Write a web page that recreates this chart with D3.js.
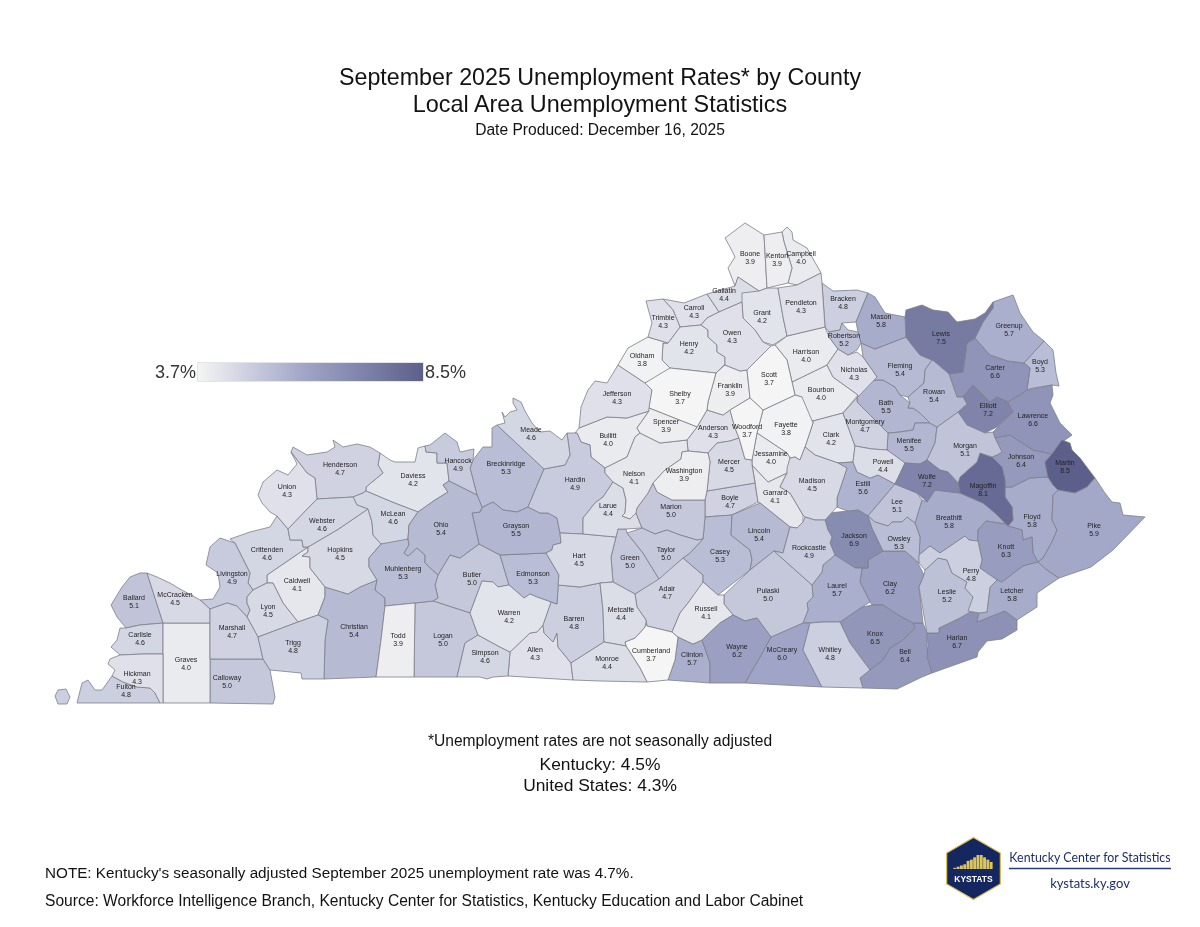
<!DOCTYPE html>
<html lang="en">
<head>
  <meta charset="UTF-8">
  <title>September 2025 Unemployment Rates by County</title>
  <style>
    body { margin: 0; background: #fff; font-family: "Liberation Sans", Arial, sans-serif; }
    .county { stroke: #7c7d88; stroke-width: 0.8; stroke-linejoin: round; }
    .county-label { font-size: 7px; fill: #222; text-anchor: middle; }
  </style>
  <script src="https://d3js.org/d3.v7.min.js"></script>
</head>
<body>
  <div id="chart"></div>
  <script>
    var countyNames = ["Adair","Allen","Anderson","Ballard","Barren","Bath","Bell","Boone","Bourbon","Boyd","Boyle","Bracken","Breathitt","Breckinridge","Bullitt","Butler","Caldwell","Calloway","Campbell","Carlisle","Carroll","Carter","Casey","Christian","Clark","Clay","Clinton","Crittenden","Cumberland","Daviess","Edmonson","Elliott","Estill","Fayette","Fleming","Floyd","Franklin","Fulton","Gallatin","Garrard","Grant","Graves","Grayson","Green","Greenup","Hancock","Hardin","Harlan","Harrison","Hart","Henderson","Henry","Hickman","Hopkins","Jackson","Jefferson","Jessamine","Johnson","Kenton","Knott","Knox","Larue","Laurel","Lawrence","Lee","Leslie","Letcher","Lewis","Lincoln","Livingston","Logan","Lyon","McCracken","McCreary","McLean","Madison","Magoffin","Marion","Marshall","Martin","Mason","Meade","Menifee","Mercer","Metcalfe","Monroe","Montgomery","Morgan","Muhlenberg","Nelson","Nicholas","Ohio","Oldham","Owen","Owsley","Pendleton","Perry","Pike","Powell","Pulaski","Robertson","Rockcastle","Rowan","Russell","Scott","Shelby","Simpson","Spencer","Taylor","Todd","Trigg","Trimble","Union","Warren","Washington","Wayne","Webster","Whitley","Wolfe","Woodford"];
    var countyRates = [4.7,4.3,4.3,5.1,4.8,5.5,6.4,3.9,4.0,5.3,4.7,4.8,5.8,5.3,4.0,5.0,4.1,5.0,4.0,4.6,4.3,6.6,5.3,5.4,4.2,6.2,5.7,4.6,3.7,4.2,5.3,7.2,5.6,3.8,5.4,5.8,3.9,4.8,4.4,4.1,4.2,4.0,5.5,5.0,5.7,4.9,4.9,6.7,4.0,4.5,4.7,4.2,4.3,4.5,6.9,4.3,4.0,6.4,3.9,6.3,6.5,4.4,5.7,6.6,5.1,5.2,5.8,7.5,5.4,4.9,5.0,4.5,4.5,6.0,4.6,4.5,8.1,5.0,4.7,8.5,5.8,4.6,5.5,4.5,4.4,4.4,4.7,5.1,5.3,4.1,4.3,5.4,3.8,4.3,5.3,4.3,4.8,5.9,4.4,5.0,5.2,4.9,5.4,4.1,3.7,3.7,4.6,3.9,5.0,3.9,4.8,4.3,4.3,4.2,3.9,6.2,4.6,4.8,7.2,3.7];
    var legendDomain = [3.7, 5.9, 8.5];
    var legendColors = ["#f5f5f5", "#a3a8c9", "#5a5e8a"];

    // county outlines in map units
    var countyOutlines = {
      Adair: [[635,594],[659,578],[683,558],[703,575],[703,583],[688,603],[680,613],[672,632],[647,626],[646,620],[637,607]],
      Allen: [[510,652],[530,633],[537,632],[543,625],[544,633],[553,642],[557,633],[558,647],[571,663],[573,680],[508,676]],
      Anderson: [[687,440],[697,427],[707,410],[723,415],[730,410],[735,428],[739,438],[730,441],[717,443],[708,453],[688,451]],
      Ballard: [[147,573],[140,573],[130,577],[122,587],[111,605],[117,617],[126,628],[140,625],[163,623]],
      Barren: [[557,604],[558,585],[580,587],[600,583],[603,610],[604,642],[571,663],[558,647],[557,633],[553,642],[544,633],[543,625],[551,602]],
      Bath: [[857,402],[857,398],[870,380],[883,380],[895,387],[900,395],[910,403],[908,408],[913,408],[920,413],[930,423],[915,423],[913,430],[900,432],[888,433]],
      Bell: [[913,623],[923,623],[927,633],[927,647],[932,673],[922,677],[897,689],[863,688],[860,678],[870,670],[883,660],[890,648],[903,640],[915,628]],
      Boone: [[725,238],[745,223],[764,235],[767,288],[759,291],[738,277],[735,286],[728,268],[735,257],[730,247]],
      Bourbon: [[792,382],[827,365],[833,377],[858,395],[843,413],[813,421],[802,412],[802,397],[795,395]],
      Boyd: [[1044,341],[1053,350],[1056,373],[1059,386],[1052,385],[1033,388],[1027,390],[1030,368],[1024,363]],
      Boyle: [[707,491],[755,483],[758,502],[732,515],[705,517],[705,500]],
      Bracken: [[822,283],[833,291],[857,290],[868,293],[856,322],[842,323],[840,330],[829,332],[825,327]],
      Breathitt: [[922,500],[927,502],[935,490],[960,493],[983,503],[995,508],[1005,524],[986,521],[978,530],[978,541],[969,540],[965,536],[940,553],[930,546],[919,555],[920,537],[915,523]],
      Breckinridge: [[497,425],[492,428],[492,447],[483,447],[473,460],[470,468],[477,495],[482,507],[483,507],[493,502],[503,510],[517,512],[528,507],[544,469]],
      Bullitt: [[575,433],[579,428],[607,417],[627,418],[649,411],[637,428],[640,433],[635,437],[627,457],[605,468],[591,457],[590,445],[581,442],[577,433]],
      Butler: [[479,544],[500,555],[509,585],[498,587],[493,582],[482,581],[470,613],[433,601],[438,598],[435,585],[438,575],[450,555],[460,558]],
      Caldwell: [[308,547],[308,552],[302,556],[310,557],[310,568],[325,587],[325,597],[318,615],[298,622],[283,603],[273,583],[267,583],[267,575]],
      Calloway: [[210,659],[263,659],[270,670],[275,697],[273,704],[210,703]],
      Campbell: [[782,232],[787,227],[792,232],[793,240],[807,248],[821,273],[797,285],[788,283],[792,268],[784,242]],
      Carlisle: [[126,628],[140,625],[163,623],[163,654],[143,654],[120,655],[111,647],[117,640],[120,628]],
      Carroll: [[663,299],[684,303],[707,294],[719,312],[707,318],[701,325],[680,327],[673,310]],
      Carter: [[975,338],[990,355],[1008,361],[1024,363],[1030,368],[1027,390],[1020,395],[1008,402],[997,397],[990,402],[973,385],[963,397],[957,397],[949,374],[963,372],[967,343]],
      Casey: [[705,517],[732,515],[731,535],[750,550],[752,560],[750,570],[718,595],[703,582],[703,575],[683,558],[690,553],[703,539]],
      Christian: [[325,587],[348,594],[360,587],[377,580],[375,590],[385,598],[385,606],[381,640],[376,677],[324,679],[325,640],[328,620],[318,615],[325,597]],
      Clark: [[813,421],[843,413],[855,446],[853,462],[838,463],[815,455],[805,447],[813,423]],
      Clay: [[883,551],[905,551],[918,563],[924,575],[919,587],[923,623],[913,623],[898,615],[883,605],[872,605],[870,602],[860,582],[862,568],[868,568],[868,560]],
      Clinton: [[678,637],[693,644],[702,640],[710,663],[710,683],[668,680],[675,660]],
      Crittenden: [[230,539],[250,532],[270,527],[277,516],[288,529],[290,540],[302,540],[303,547],[308,547],[267,575],[267,583],[253,590],[248,583],[250,573],[242,557],[235,543]],
      Cumberland: [[646,623],[647,626],[672,632],[678,637],[675,660],[668,680],[647,682],[640,668],[626,646],[625,642],[635,638],[645,627]],
      Daviess: [[380,453],[390,460],[395,462],[415,462],[418,448],[425,446],[426,452],[437,453],[437,463],[447,463],[449,481],[443,485],[448,492],[435,500],[418,512],[392,502],[366,491],[366,487],[383,473],[378,465]],
      Edmonson: [[500,555],[546,553],[559,575],[557,604],[537,597],[530,594],[524,598],[509,585]],
      Elliott: [[963,397],[973,385],[990,402],[997,397],[1008,402],[1013,412],[997,427],[985,433],[967,425],[958,412],[967,404]],
      Estill: [[838,463],[853,462],[857,472],[870,478],[878,475],[895,484],[868,516],[858,510],[850,512],[837,507],[837,498],[847,468]],
      Fayette: [[763,410],[795,395],[802,397],[813,423],[805,447],[800,460],[795,457],[790,458],[787,453],[757,433]],
      Fleming: [[875,349],[906,337],[912,345],[920,355],[932,360],[925,370],[924,383],[908,397],[900,395],[895,387],[883,380],[870,380],[877,377],[863,357],[861,343]],
      Floyd: [[1005,487],[1012,487],[1030,478],[1048,477],[1053,485],[1058,490],[1053,495],[1052,520],[1057,530],[1052,542],[1043,558],[1038,562],[1033,553],[1032,537],[1023,540],[1022,530],[1008,526],[1013,520],[1012,507],[1005,497]],
      Franklin: [[716,373],[725,365],[740,371],[747,370],[750,398],[730,410],[723,415],[707,410],[708,402]],
      Fulton: [[112,676],[123,682],[137,687],[150,688],[155,693],[160,703],[120,703],[77,703],[82,683],[88,680],[95,690],[102,690]],
      Gallatin: [[707,294],[728,288],[735,286],[738,277],[759,291],[742,302],[719,312]],
      Garrard: [[752,465],[768,482],[787,473],[780,487],[790,493],[803,515],[803,522],[797,528],[790,527],[760,503],[758,502],[755,482]],
      Grant: [[742,302],[742,293],[759,291],[767,288],[778,288],[783,317],[787,336],[773,345],[763,342],[755,330],[743,318]],
      Graves: [[163,623],[210,623],[210,703],[163,703]],
      Grayson: [[472,513],[480,512],[483,507],[493,502],[503,510],[517,512],[528,507],[540,513],[548,513],[557,518],[560,533],[561,543],[553,545],[552,550],[546,553],[500,555],[479,544]],
      Green: [[616,537],[618,529],[626,529],[627,533],[643,553],[659,579],[635,594],[613,582],[611,557]],
      Greenup: [[993,302],[1013,295],[1015,300],[1020,313],[1033,332],[1044,341],[1024,363],[1008,361],[990,355],[975,338],[983,322],[993,308]],
      Hancock: [[425,446],[430,445],[445,433],[457,442],[460,452],[474,449],[473,460],[470,468],[477,495],[449,481],[447,463],[437,463],[437,453],[426,452]],
      Hardin: [[567,433],[577,433],[581,442],[590,445],[591,457],[605,468],[605,473],[613,482],[603,497],[595,503],[583,518],[583,534],[560,533],[557,518],[548,513],[540,513],[528,507],[544,469],[565,465],[570,455]],
      Harlan: [[927,633],[939,633],[939,628],[960,618],[968,611],[979,613],[977,622],[1005,611],[1017,620],[1017,630],[1002,639],[987,641],[978,652],[977,657],[960,663],[932,673],[927,657],[928,645]],
      Harrison: [[775,345],[787,336],[825,327],[829,337],[838,349],[827,365],[792,382],[787,360]],
      Hart: [[560,533],[583,534],[616,537],[611,557],[613,582],[600,583],[580,587],[558,585],[559,575],[546,553],[552,550],[553,545],[561,543]],
      Henderson: [[291,452],[293,447],[307,455],[327,452],[335,447],[333,440],[343,447],[357,444],[370,447],[380,453],[378,465],[383,473],[366,487],[366,491],[363,493],[353,497],[317,499],[315,478],[307,473]],
      Henry: [[680,327],[701,325],[708,330],[708,337],[717,345],[717,352],[725,357],[725,364],[716,373],[670,368],[662,360],[663,343],[668,343]],
      Hickman: [[120,655],[143,654],[163,654],[163,703],[160,703],[155,693],[150,688],[137,687],[123,682],[112,676],[115,670],[108,664],[110,659]],
      Hopkins: [[368,509],[372,522],[373,535],[381,544],[369,558],[369,567],[377,580],[360,587],[348,594],[325,587],[310,568],[310,557],[302,556],[308,552],[308,547],[337,530]],
      Jackson: [[825,520],[828,513],[858,510],[868,516],[872,528],[883,551],[868,560],[868,568],[855,568],[835,555],[830,543],[832,537],[828,530]],
      Jefferson: [[579,428],[581,407],[588,390],[595,381],[607,383],[618,365],[645,383],[652,390],[649,411],[627,418],[607,417]],
      Jessamine: [[757,433],[787,453],[790,458],[787,473],[768,482],[752,465],[752,460]],
      Johnson: [[992,457],[997,455],[1002,452],[995,438],[1010,435],[1033,450],[1052,454],[1045,462],[1048,477],[1030,478],[1012,487],[1005,487],[1005,480],[1002,467]],
      Kenton: [[764,235],[782,232],[784,242],[792,268],[788,283],[767,288]],
      Knott: [[986,521],[1005,524],[1008,526],[1022,530],[1023,540],[1032,537],[1033,553],[1038,562],[1023,566],[1002,582],[997,580],[980,568],[982,560],[978,541],[978,530]],
      Knox: [[840,622],[862,607],[872,605],[883,605],[898,615],[913,623],[915,628],[903,640],[890,648],[883,660],[870,670],[850,643]],
      Larue: [[613,482],[623,488],[626,500],[625,513],[622,516],[630,519],[636,513],[642,528],[626,529],[618,529],[616,537],[583,534],[583,518],[595,503],[603,497]],
      Laurel: [[835,555],[855,568],[862,568],[860,582],[870,602],[862,607],[840,622],[823,622],[803,623],[808,610],[807,603],[813,597],[812,585],[822,572],[823,565]],
      Lawrence: [[1008,402],[1020,395],[1027,390],[1052,385],[1053,395],[1050,403],[1060,423],[1072,435],[1065,440],[1052,454],[1033,450],[1010,435],[995,438],[993,432],[1013,412]],
      Lee: [[895,484],[917,493],[922,500],[915,523],[907,517],[902,522],[892,522],[888,526],[875,522],[868,516]],
      Leslie: [[925,570],[938,558],[947,560],[952,573],[967,582],[965,588],[973,597],[972,611],[960,618],[939,628],[939,633],[927,633],[919,587],[924,575]],
      Letcher: [[1002,582],[1023,566],[1038,562],[1047,570],[1059,578],[1037,593],[1037,607],[1017,620],[1005,611],[977,622],[979,613],[987,612],[988,603],[990,587],[997,580]],
      Lewis: [[906,310],[922,305],[933,310],[948,312],[957,322],[975,319],[985,313],[993,302],[993,308],[983,322],[975,338],[967,343],[963,372],[949,374],[935,362],[932,360],[920,355],[912,345],[906,337],[905,317]],
      Lincoln: [[732,515],[760,503],[790,527],[783,553],[774,551],[750,570],[752,560],[750,550],[731,535]],
      Livingston: [[220,538],[235,543],[242,557],[250,573],[248,583],[253,590],[247,597],[247,603],[250,610],[247,617],[237,606],[227,603],[210,609],[200,600],[213,599],[220,587],[218,573],[206,565],[210,547]],
      Logan: [[415,603],[433,601],[470,613],[478,635],[465,643],[457,677],[414,677]],
      Lyon: [[247,603],[247,597],[253,590],[267,583],[273,583],[283,603],[298,622],[258,637],[247,617],[250,610]],
      McCracken: [[147,573],[163,623],[210,623],[210,609],[200,600],[193,596],[180,589],[170,583],[157,577]],
      McCreary: [[771,637],[803,623],[810,623],[803,650],[822,687],[745,683],[760,657]],
      McLean: [[353,497],[363,493],[366,491],[392,502],[418,512],[409,525],[408,539],[395,545],[381,544],[373,535],[372,522],[368,509],[357,505]],
      Madison: [[787,468],[790,458],[795,457],[800,460],[805,447],[815,455],[838,463],[847,468],[837,498],[837,507],[825,520],[815,520],[805,517],[803,515],[790,493],[780,487],[787,473]],
      Magoffin: [[960,477],[977,462],[980,453],[992,457],[1002,467],[1005,480],[1005,497],[1012,507],[1013,520],[1008,526],[995,513],[983,503],[960,493],[958,483]],
      Marion: [[653,483],[657,492],[672,500],[705,500],[705,517],[703,539],[697,540],[680,535],[667,530],[655,534],[642,528],[636,513],[637,508],[648,493]],
      Marshall: [[210,609],[227,603],[237,606],[247,617],[258,637],[263,659],[210,659],[210,623]],
      Martin: [[1052,454],[1062,440],[1070,443],[1072,450],[1080,458],[1095,478],[1087,487],[1075,493],[1058,490],[1053,485],[1048,477],[1045,462]],
      Mason: [[868,293],[875,297],[885,313],[905,317],[906,337],[875,349],[861,343],[858,332],[856,322]],
      Meade: [[513,398],[521,402],[525,411],[532,423],[540,432],[550,431],[562,440],[567,433],[570,455],[565,465],[544,469],[497,425],[505,423],[502,412],[505,417],[510,412],[517,410],[513,403]],
      Menifee: [[888,433],[900,432],[913,430],[915,423],[930,423],[937,427],[935,443],[927,460],[920,464],[905,463],[890,452],[887,450]],
      Mercer: [[708,453],[717,443],[730,441],[739,438],[745,459],[752,460],[752,465],[755,483],[707,491],[710,462]],
      Metcalfe: [[613,582],[635,594],[637,607],[646,620],[646,623],[645,627],[635,638],[625,642],[626,646],[604,642],[603,610],[600,583]],
      Monroe: [[571,663],[604,642],[626,646],[640,668],[647,682],[600,681],[573,680]],
      Montgomery: [[843,413],[857,398],[857,402],[888,433],[887,450],[872,449],[855,446]],
      Morgan: [[937,427],[958,412],[967,425],[985,433],[993,432],[995,438],[1002,452],[997,455],[992,457],[980,453],[977,462],[960,477],[958,483],[948,472],[940,470],[927,460],[935,443]],
      Muhlenberg: [[381,544],[408,539],[409,545],[404,553],[408,556],[417,548],[425,555],[425,563],[438,575],[435,585],[438,598],[433,601],[415,603],[385,606],[385,598],[375,590],[377,580],[369,567],[369,558]],
      Nelson: [[605,468],[627,457],[635,437],[640,433],[660,443],[687,440],[688,451],[682,452],[681,459],[665,470],[653,483],[648,493],[637,508],[636,513],[630,519],[622,516],[625,513],[626,500],[623,488],[613,482],[605,473]],
      Nicholas: [[838,349],[848,355],[857,352],[863,357],[877,377],[857,398],[858,395],[833,377],[827,365]],
      Ohio: [[443,485],[449,481],[477,495],[482,507],[480,512],[472,513],[479,544],[460,558],[450,555],[438,575],[425,563],[425,555],[417,548],[408,556],[404,553],[409,545],[408,539],[409,525],[418,512],[435,500],[448,492]],
      Oldham: [[618,365],[628,348],[648,337],[668,343],[663,343],[662,360],[670,368],[665,375],[645,383]],
      Owen: [[742,302],[743,318],[755,330],[763,342],[771,346],[747,370],[740,371],[725,365],[725,357],[717,352],[717,345],[708,337],[708,330],[701,325],[707,318],[719,312]],
      Owsley: [[868,516],[875,522],[888,526],[892,522],[902,522],[907,517],[915,523],[920,537],[919,563],[905,551],[883,551],[872,528]],
      Pendleton: [[821,273],[822,283],[825,327],[787,336],[783,317],[778,288],[797,285]],
      Perry: [[919,555],[930,546],[940,553],[965,536],[969,540],[978,541],[982,560],[980,568],[997,580],[990,587],[988,603],[987,612],[979,613],[968,611],[973,597],[965,588],[967,582],[952,573],[947,560],[938,558],[925,570],[919,563]],
      Pike: [[1058,490],[1075,493],[1087,487],[1095,478],[1105,493],[1112,502],[1120,503],[1123,515],[1145,517],[1113,550],[1091,567],[1059,578],[1047,570],[1038,562],[1043,558],[1052,542],[1057,530],[1052,520],[1053,495]],
      Powell: [[855,446],[872,449],[887,450],[890,452],[905,463],[895,484],[878,475],[870,478],[857,472],[853,462]],
      Pulaski: [[774,551],[812,585],[813,597],[807,603],[808,610],[803,623],[771,637],[757,618],[745,621],[733,615],[724,604],[724,595],[750,570]],
      Robertson: [[842,323],[848,330],[858,332],[861,343],[857,350],[848,355],[838,349],[829,337],[829,332],[840,330]],
      Rockcastle: [[790,527],[797,528],[803,522],[805,517],[815,520],[825,520],[828,530],[832,537],[830,543],[835,555],[823,565],[822,572],[812,585],[774,551],[783,553]],
      Rowan: [[932,360],[935,362],[949,374],[957,397],[963,397],[967,404],[958,412],[937,427],[930,423],[920,413],[913,408],[908,408],[910,403],[908,397],[924,383],[925,370]],
      Russell: [[703,582],[718,595],[724,595],[724,604],[733,615],[720,623],[702,640],[693,644],[678,637],[672,632],[680,613],[688,603]],
      Scott: [[771,346],[775,345],[787,360],[792,382],[795,395],[763,410],[750,398],[747,370]],
      Shelby: [[645,383],[670,368],[716,373],[708,402],[707,410],[697,427],[649,408],[652,390]],
      Simpson: [[465,643],[478,635],[500,647],[510,652],[508,676],[493,677],[487,679],[480,677],[457,677]],
      Spencer: [[649,408],[697,427],[687,440],[660,443],[640,433],[637,428],[649,411]],
      Taylor: [[627,533],[642,528],[655,534],[667,530],[680,535],[697,540],[703,539],[690,553],[683,558],[659,579],[643,553]],
      Todd: [[385,606],[415,603],[414,677],[376,677],[381,640]],
      Trigg: [[258,637],[298,622],[318,615],[328,620],[325,640],[324,679],[302,679],[301,673],[270,670],[263,659]],
      Trimble: [[646,301],[663,299],[673,310],[680,327],[668,343],[648,337],[652,323]],
      Union: [[258,495],[263,482],[277,470],[288,475],[297,464],[291,452],[307,473],[315,478],[317,499],[288,529],[277,516],[270,512],[262,503]],
      Warren: [[482,581],[493,582],[498,587],[509,585],[524,598],[530,594],[537,597],[551,602],[543,625],[537,632],[530,633],[510,652],[500,647],[478,635],[470,613]],
      Washington: [[653,483],[665,470],[681,459],[682,452],[688,451],[708,453],[710,462],[707,491],[705,500],[672,500],[657,492]],
      Wayne: [[702,640],[720,623],[733,615],[745,621],[757,618],[771,637],[760,657],[745,683],[710,683],[710,663]],
      Webster: [[317,499],[353,497],[357,505],[368,509],[337,530],[308,547],[303,547],[302,540],[290,540],[288,529]],
      Whitley: [[810,623],[823,622],[840,622],[850,643],[870,670],[860,678],[863,688],[822,687],[803,650]],
      Wolfe: [[905,463],[920,464],[927,460],[940,470],[948,472],[958,483],[960,493],[935,490],[927,502],[917,493],[895,484]],
      Woodford: [[730,410],[750,398],[763,410],[757,433],[752,460],[745,459],[739,438],[735,428]]
    };
    var fultonExclave = [[55,696],[58,690],[66,689],[70,697],[67,704],[58,704]];

    // where each county's name sits, same map units
    var labelAnchors = {
      Adair:[667,588],Allen:[535,649],Anderson:[713,427],Ballard:[134,597],Barren:[574,618],Bath:[886,402],Bell:[905,651],Boone:[750,253],Bourbon:[821,389],Boyd:[1040,361],Boyle:[730,497],Bracken:[843,298],Breathitt:[949,517],Breckinridge:[506,463],Bullitt:[608,435],Butler:[472,574],Caldwell:[297,580],Calloway:[227,677],Campbell:[801,253],Carlisle:[140,634],Carroll:[694,307],Carter:[995,367],Casey:[720,551],Christian:[354,626],Clark:[831,434],Clay:[890,583],Clinton:[692,654],Crittenden:[267,549],Cumberland:[651,650],Daviess:[413,475],Edmonson:[533,573],Elliott:[988,405],Estill:[863,483],Fayette:[786,424],Fleming:[900,365],Floyd:[1032,516],Franklin:[730,385],Fulton:[126,686],Gallatin:[724,290],Garrard:[775,492],Grant:[762,312],Graves:[186,659],Grayson:[516,525],Green:[630,557],Greenup:[1009,325],Hancock:[458,460],Hardin:[575,479],Harlan:[957,637],Harrison:[806,351],Hart:[579,555],Henderson:[340,464],Henry:[689,343],Hickman:[137,673],Hopkins:[340,549],Jackson:[854,535],Jefferson:[617,393],Jessamine:[771,453],Johnson:[1021,456],Kenton:[777,255],Knott:[1006,546],Knox:[875,633],Larue:[608,505],Laurel:[837,585],Lawrence:[1033,415],Lee:[897,501],Leslie:[947,591],Letcher:[1012,590],Lewis:[941,333],Lincoln:[759,530],Livingston:[232,573],Logan:[443,635],Lyon:[268,606],McCracken:[175,594],McCreary:[782,649],McLean:[393,513],Madison:[812,480],Magoffin:[983,485],Marion:[671,506],Marshall:[232,627],Martin:[1065,462],Mason:[881,316],Meade:[531,429],Menifee:[909,440],Mercer:[729,461],Metcalfe:[621,609],Monroe:[607,658],Montgomery:[865,421],Morgan:[965,445],Muhlenberg:[403,568],Nelson:[634,473],Nicholas:[854,369],Ohio:[441,524],Oldham:[642,355],Owen:[732,332],Owsley:[899,538],Pendleton:[801,302],Perry:[971,570],Pike:[1094,525],Powell:[883,461],Pulaski:[768,590],Robertson:[844,335],Rockcastle:[809,547],Rowan:[934,391],Russell:[706,608],Scott:[769,374],Shelby:[680,393],Simpson:[485,652],Spencer:[666,421],Taylor:[666,549],Todd:[398,635],Trigg:[293,642],Trimble:[663,317],Union:[287,486],Warren:[509,612],Washington:[684,470],Wayne:[737,646],Webster:[322,520],Whitley:[830,649],Wolfe:[927,476],Woodford:[747,426]
    };

    var legendLabels = ["3.7%", "8.5%"];
    var titleLines = ["September 2025 Unemployment Rates* by County", "Local Area Unemployment Statistics"];
    var dateLine = "Date Produced: December 16, 2025";
    var footLine = "*Unemployment rates are not seasonally adjusted";
    var summaryLines = ["Kentucky: 4.5%", "United States: 4.3%"];
    var noteLines = ["NOTE: Kentucky's seasonally adjusted September 2025 unemployment rate was 4.7%.",
                     "Source: Workforce Intelligence Branch, Kentucky Center for Statistics, Kentucky Education and Labor Cabinet"];
    var logoBars = [1, 2, 3, 4, 7, 8, 10, 12, 12, 10, 8, 6];

    var width = 1200, height = 927;
    var root = d3.select("#chart").append("svg").attr("width", width).attr("height", height);
    var svg = root.append("g").attr("opacity", 0.995);

    var color = d3.scaleLinear().domain(legendDomain).range(legendColors);

    var closeRing = function(r) { return r.concat([r[0]]); };
    var features = countyNames.map(function(name, i) {
      var polys = [[closeRing(countyOutlines[name])]];
      if (name === "Fulton") polys.push([closeRing(fultonExclave)]);
      return { type: "Feature", properties: { name: name, rate: countyRates[i] },
               geometry: { type: "MultiPolygon", coordinates: polys } };
    });

    var projection = d3.geoIdentity();
    var path = d3.geoPath(projection);

    svg.append("g").selectAll("path").data(features).enter().append("path")
      .attr("class", "county")
      .attr("d", path)
      .attr("fill", function(d) { return color(d.properties.rate); });

    var labels = svg.append("g").selectAll("g").data(features).enter().append("g")
      .attr("transform", function(d) {
        var p = projection(labelAnchors[d.properties.name]);
        return "translate(" + p[0] + "," + p[1] + ")";
      });
    labels.append("text").attr("class", "county-label").attr("y", 2.5)
      .text(function(d) { return d.properties.name; });
    labels.append("text").attr("class", "county-label").attr("y", 10.5)
      .text(function(d) { return d.properties.rate.toFixed(1); });

    // legend
    var defs = root.append("defs");
    var grad = defs.append("linearGradient").attr("id", "legend-grad");
    var legendT = d3.scaleLinear().domain([legendDomain[0], legendDomain[2]]).range([0, 100]);
    grad.selectAll("stop").data(legendDomain).enter().append("stop")
      .attr("offset", function(d) { return legendT(d) + "%"; })
      .attr("stop-color", function(d) { return color(d); });
    svg.append("rect").attr("x", 197.5).attr("y", 362.5).attr("width", 226).attr("height", 19)
      .attr("fill", "url(#legend-grad)").attr("stroke", "#e4e4e8").attr("stroke-width", 1);
    svg.append("text").attr("x", 196).attr("y", 378).attr("text-anchor", "end")
      .attr("font-size", 18).attr("fill", "#333").text(legendLabels[0]);
    svg.append("text").attr("x", 425).attr("y", 378)
      .attr("font-size", 18).attr("fill", "#333").text(legendLabels[1]);

    // headings and notes
    function centered(str, y, size) {
      svg.append("text").attr("x", 600).attr("y", y).attr("text-anchor", "middle")
        .attr("font-size", size).attr("fill", "#111").text(str);
    }
    centered(titleLines[0], 85, 23.25);
    centered(titleLines[1], 112, 23.4);
    centered(dateLine, 135, 15.6);
    centered(footLine, 746, 15.6);
    centered(summaryLines[0], 770, 17.4);
    centered(summaryLines[1], 791, 17.4);
    svg.append("text").attr("x", 45).attr("y", 878).attr("font-size", 15.25).attr("fill", "#111").text(noteLines[0]);
    svg.append("text").attr("x", 45).attr("y", 906).attr("font-size", 15.6).attr("fill", "#111").text(noteLines[1]);

    // KYSTATS badge
    var logo = svg.append("g");
    var hexAngles = d3.range(6).map(function(i) { return Math.PI / 3 * i - Math.PI / 2; });
    var hex = d3.lineRadial().angle(function(a) { return a + Math.PI / 2; }).radius(31).curve(d3.curveLinearClosed);
    logo.append("path").attr("transform", "translate(973.5,868.5)").attr("d", hex(hexAngles))
      .attr("fill", "#13265f").attr("stroke", "#d9bf4e").attr("stroke-width", 1.2);
    var barX = d3.scaleBand().domain(d3.range(logoBars.length)).range([953, 993]).padding(0.12);
    var barY = d3.scaleLinear().domain([0, 12]).range([869, 855]);
    logo.selectAll("rect").data(logoBars).enter().append("rect")
      .attr("x", function(d, i) { return barX(i); })
      .attr("width", barX.bandwidth())
      .attr("y", function(d) { return barY(d); })
      .attr("height", function(d) { return 869 - barY(d); })
      .attr("fill", "#dcc65a");
    logo.append("text").attr("x", 973.5).attr("y", 882).attr("text-anchor", "middle")
      .attr("font-size", 8.5).attr("font-weight", "bold").attr("fill", "#fff").text("KYSTATS");
    logo.append("text").attr("x", 1090).attr("y", 862).attr("text-anchor", "middle")
      .attr("font-family", "Lato").attr("font-size", 12.4).attr("fill", "#1f2f66").text("Kentucky Center for Statistics");
    logo.append("line").attr("x1", 1009).attr("x2", 1171).attr("y1", 868.5).attr("y2", 868.5)
      .attr("stroke", "#2d3b78").attr("stroke-width", 1.5);
    logo.append("text").attr("x", 1090).attr("y", 888).attr("text-anchor", "middle")
      .attr("font-family", "Lato").attr("font-size", 13).attr("fill", "#1f2f66").text("kystats.ky.gov");
  </script>
</body>
</html>
